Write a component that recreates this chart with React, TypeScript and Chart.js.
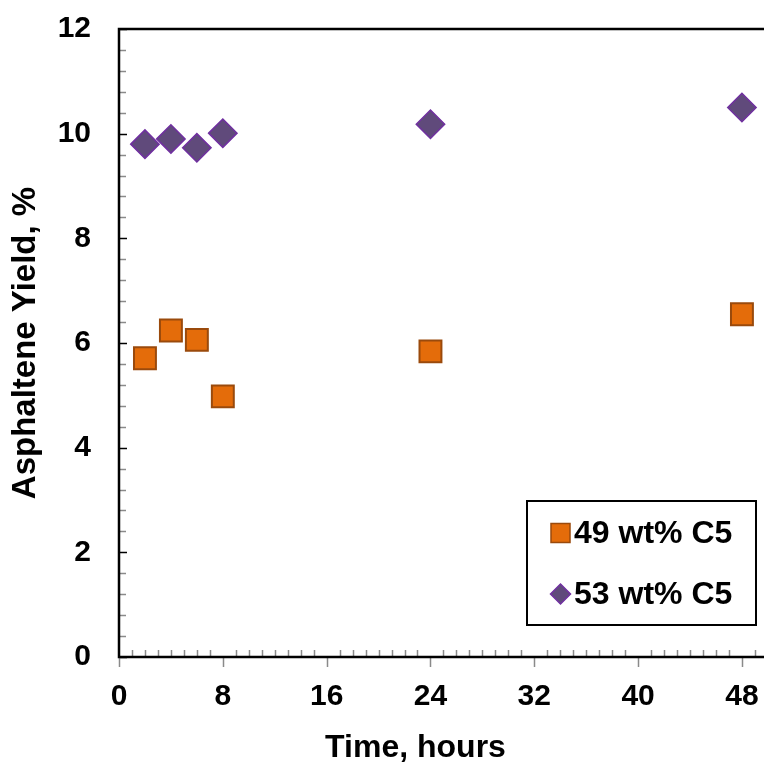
import React, { useEffect, useRef } from "react";
import { Chart, registerables } from "chart.js";

Chart.register(...registerables);

const hours = [2, 4, 6, 8, 24, 48];
const yield49 = [5.71, 6.24, 6.06, 4.98, 5.84, 6.55];
const yield53 = [9.8, 9.9, 9.73, 10.01, 10.18, 10.5];
const seriesLabels = ["49 wt% C5", "53 wt% C5"];
const xTitle = "Time, hours";
const yTitle = "Asphaltene Yield, %";
const xTickValues = [0, 8, 16, 24, 32, 40, 48];
const yTickValues = [0, 2, 4, 6, 8, 10, 12];
const xMinorStep = 1;
const yMinorStep = 0.4;

const FONT = "'Liberation Sans', Arial, Helvetica, sans-serif";
const ORANGE = "#E46C0A";
const ORANGE_EDGE = "#9A4A0C";
const PURPLE = "#604A7B";
const PURPLE_EDGE = "#7030A0";

const framePlugin = {
  id: "frame",
  afterDraw(chart: any) {
    const { ctx, chartArea } = chart;
    const { left, right, top, bottom } = chartArea;
    const xs = chart.scales.x;
    const ys = chart.scales.y;
    ctx.save();
    for (let i = 0; i <= Math.round(12 / yMinorStep); i++) {
      const v = i * yMinorStep;
      const py = Math.round(ys.getPixelForValue(v)) + 0.5;
      const major = yTickValues.some((t) => Math.abs(t - v) < 1e-6);
      ctx.beginPath();
      ctx.strokeStyle = major ? "#000" : "#8a8a8a";
      ctx.lineWidth = 1.5;
      ctx.moveTo(left, py);
      ctx.lineTo(left + (major ? 8 : 7), py);
      ctx.stroke();
    }
    for (let h = 0; h <= 49; h += xMinorStep) {
      const px = Math.round(xs.getPixelForValue(h)) + 0.5;
      const major = xTickValues.includes(h);
      ctx.beginPath();
      ctx.strokeStyle = "#8a8a8a";
      ctx.lineWidth = 1.5;
      if (major) {
        ctx.moveTo(px, bottom);
        ctx.lineTo(px, bottom + 10);
      } else {
        ctx.moveTo(px, bottom);
        ctx.lineTo(px, bottom - 7);
      }
      ctx.stroke();
    }
    ctx.strokeStyle = "#000";
    ctx.lineWidth = 2.5;
    ctx.beginPath();
    ctx.moveTo(left, top);
    ctx.lineTo(right, top);
    ctx.moveTo(left, top - 1.25);
    ctx.lineTo(left, bottom + 1.25);
    ctx.moveTo(left - 1.25, bottom);
    ctx.lineTo(right, bottom);
    ctx.stroke();

    // x-axis title
    ctx.fillStyle = "#000";
    ctx.font = `bold 32px ${FONT}`;
    ctx.textAlign = "center";
    ctx.textBaseline = "alphabetic";
    ctx.fillText(xTitle, 415.5, 757);

    // legend
    const bx = 527, by = 501, bw = 229, bh = 124;
    ctx.fillStyle = "#fff";
    ctx.fillRect(bx, by, bw, bh);
    ctx.lineWidth = 2;
    ctx.strokeStyle = "#000";
    ctx.strokeRect(bx, by, bw, bh);
    const rows = [533, 594];
    ctx.fillStyle = ORANGE;
    ctx.strokeStyle = ORANGE_EDGE;
    ctx.lineWidth = 1.5;
    ctx.fillRect(551, rows[0] - 9.5, 19, 19);
    ctx.strokeRect(551, rows[0] - 9.5, 19, 19);
    ctx.fillStyle = PURPLE;
    ctx.strokeStyle = PURPLE_EDGE;
    ctx.beginPath();
    ctx.moveTo(560.5 - 10, rows[1]);
    ctx.lineTo(560.5, rows[1] - 10);
    ctx.lineTo(560.5 + 10, rows[1]);
    ctx.lineTo(560.5, rows[1] + 10);
    ctx.closePath();
    ctx.fill();
    ctx.stroke();
    ctx.fillStyle = "#000";
    ctx.font = `bold 32px ${FONT}`;
    ctx.textBaseline = "middle";
    ctx.textAlign = "left";
    ctx.fillText(seriesLabels[0], 574, rows[0] + 1);
    ctx.fillText(seriesLabels[1], 574, rows[1] + 1);
    ctx.restore();
  },
};

export default function App() {
  const ref = useRef<HTMLCanvasElement>(null);
  useEffect(() => {
    const chart = new Chart(ref.current!, {
      type: "scatter",
      data: {
        datasets: [
          {
            label: seriesLabels[0],
            data: hours.map((h, i) => ({ x: h, y: yield49[i] })),
            pointStyle: "rect",
            pointRadius: 15.5,
            backgroundColor: ORANGE,
            borderColor: ORANGE_EDGE,
            borderWidth: 2,
          },
          {
            label: seriesLabels[1],
            data: hours.map((h, i) => ({ x: h, y: yield53[i] })),
            pointStyle: "rectRot",
            pointRadius: 14.2,
            backgroundColor: PURPLE,
            borderColor: PURPLE_EDGE,
            borderWidth: 1.5,
          },
        ],
      },
      options: {
        responsive: false,
        animation: false,
        devicePixelRatio: 1,
        layout: { autoPadding: false, padding: { top: 29, right: 0, left: 0, bottom: 0 } },
        plugins: { legend: { display: false }, tooltip: { enabled: false } },
        scales: {
          x: {
            type: "linear",
            min: 0,
            max: 49.7,
            afterBuildTicks: (s: any) => {
              s.ticks = xTickValues.map((v) => ({ value: v }));
            },
            afterFit: (s: any) => {
              s.height = 105;
              s.paddingLeft = 0;
              s.paddingRight = 0;
            },
            grid: { display: false, drawTicks: false },
            border: { display: false },
            ticks: {
              padding: 22,
              color: "#000",
              font: { family: FONT, weight: "bold", size: 30 },
              maxRotation: 0,
              autoSkip: false,
            },
            title: { display: false },
          },
          y: {
            type: "linear",
            min: 0,
            max: 12,
            afterBuildTicks: (s: any) => {
              s.ticks = yTickValues.map((v) => ({ value: v }));
            },
            afterFit: (s: any) => {
              s.width = 119;
              s.paddingTop = 0;
              s.paddingBottom = 0;
            },
            grid: { display: false, drawTicks: false },
            border: { display: false },
            ticks: {
              padding: 28,
              color: "#000",
              font: { family: FONT, weight: "bold", size: 30 },
            },
            title: {
              display: true,
              text: yTitle,
              color: "#000",
              font: { family: FONT, weight: "bold", size: 33 },
              padding: { top: 6, bottom: 0 },
            },
          },
        },
      },
      plugins: [framePlugin],
    } as any);
    return () => chart.destroy();
  }, []);
  return (
    <div
      style={{
        position: "fixed",
        left: 0,
        top: 0,
        width: 764,
        height: 762,
        overflow: "hidden",
        background: "#fff",
      }}
    >
      <canvas ref={ref} width={764} height={762} style={{ width: 764, height: 762, display: "block" }} />
    </div>
  );
}
